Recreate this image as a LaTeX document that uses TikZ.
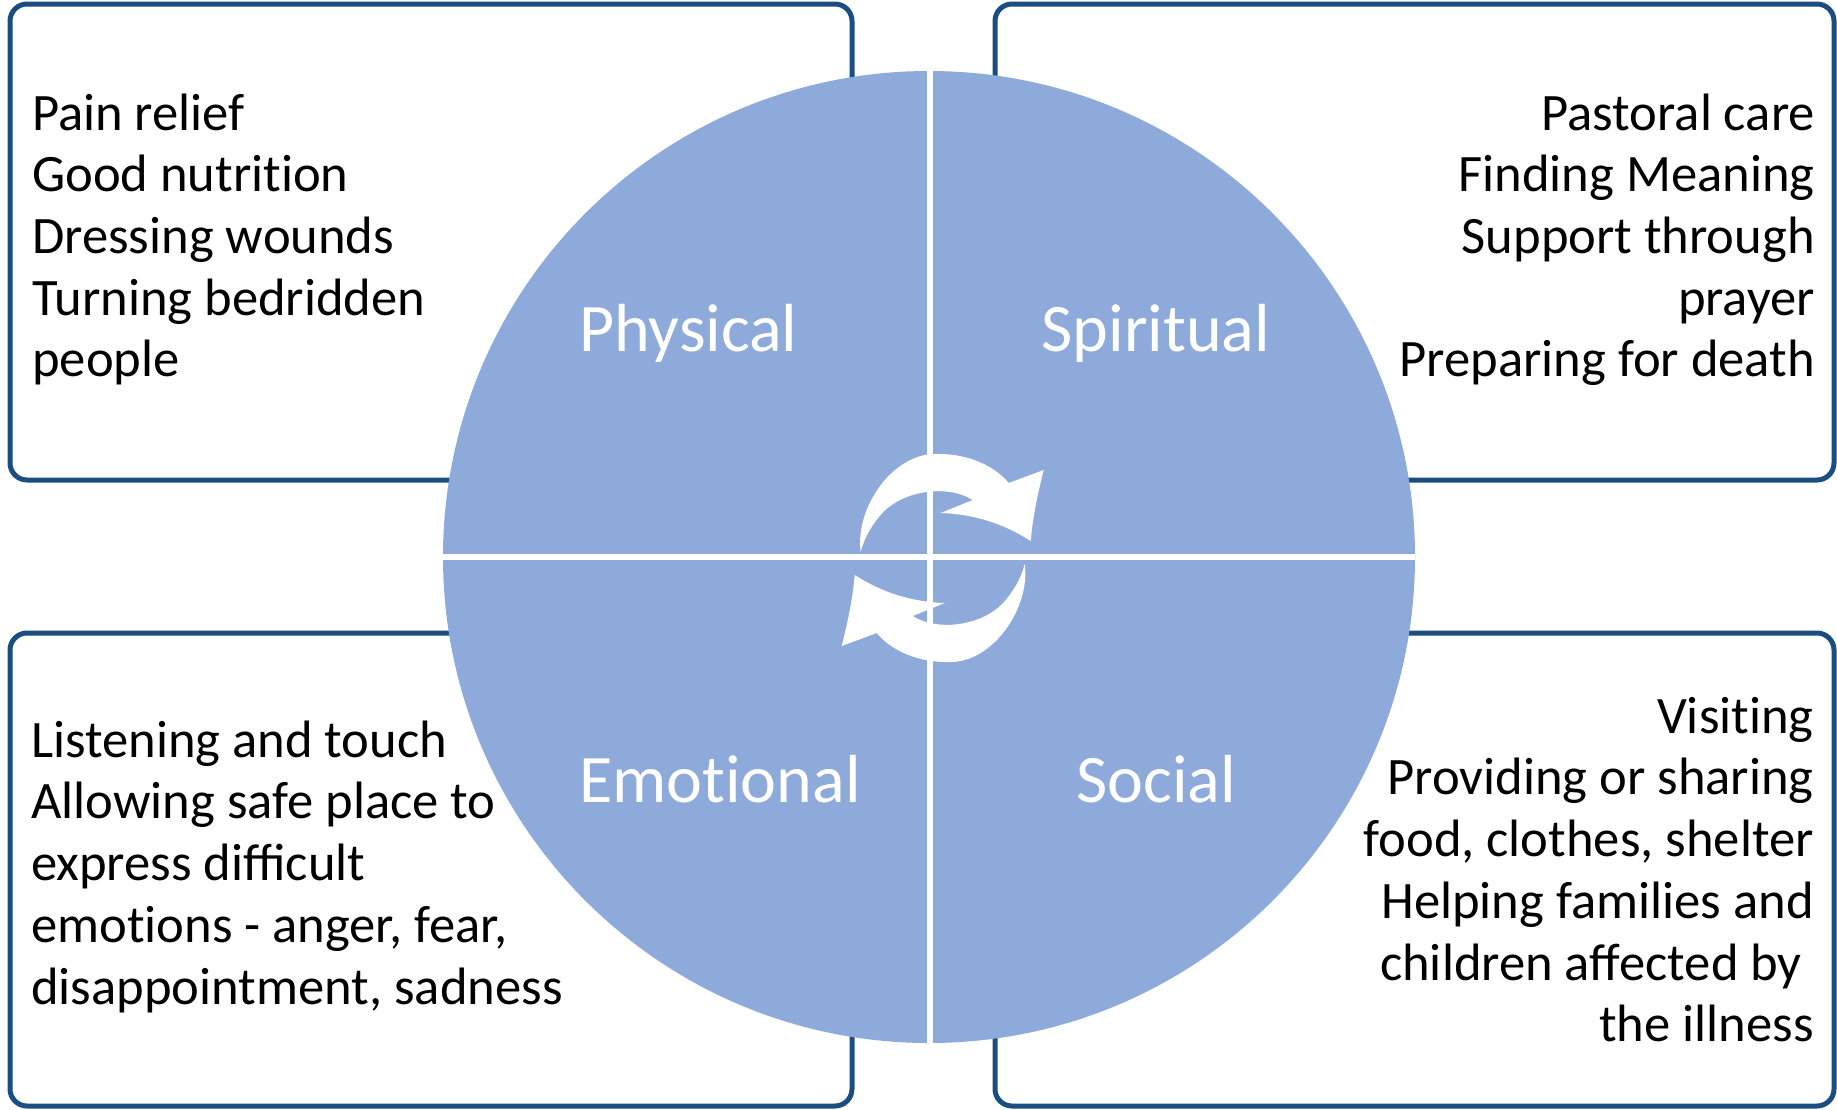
\documentclass[tikz,border=0pt]{standalone}
\usepackage{fontspec}
\setmainfont{Carlito}
\definecolor{boxline}{HTML}{1A4E80}
\definecolor{wheel}{HTML}{8EAADB}
\newcommand{\tibreak}{\kern0pt }
\begin{document}
\begin{tikzpicture}[x=1pt,y=-1pt,
  panel/.style={draw=boxline,line width=5pt,fill=white,rounded corners=17pt},
  itemtext/.style={inner sep=0pt,font=\fontsize{52.6}{61.7}\selectfont,text=black},
  quad/.style={inner sep=0pt,font=\fontsize{68}{80}\selectfont,text=white},
  divider/.style={draw=white,line width=6pt},
  swirl/.style={fill=white}]
\useasboundingbox (0,0) rectangle (1837,1109);
% panels
\path[panel] (10,4) rectangle (852,480);
\path[panel] (995,4) rectangle (1834,480);
\path[panel] (10,633) rectangle (852,1106);
\path[panel] (995,633) rectangle (1834,1106);
% wheel
\fill[wheel] (929,557) circle[radius=486];
\draw[divider] (930,71) -- (930,1043);
\draw[divider] (443,557) -- (1415,557);
% circular arrows
\begin{scope}[shift={(942.7,558)}]
\fill[swirl] (-82,-6) .. controls (-88,-50) and (-50,-104) .. (-8,-104)
  .. controls (25,-105) and (52,-92) .. (66,-75) -- (101,-88)
  .. controls (94,-60) and (90,-40) .. (88,-17)
  .. controls (60,-35) and (30,-44) .. (-2,-45) -- (30,-58)
  .. controls (5,-74) and (-42,-68) .. (-63,-42)
  .. controls (-73,-30) and (-79,-18) .. (-82,-6) -- cycle;
\end{scope}
\begin{scope}[shift={(942.7,558)},rotate=180]
\fill[swirl] (-82,-6) .. controls (-88,-50) and (-50,-104) .. (-8,-104)
  .. controls (25,-105) and (52,-92) .. (66,-75) -- (101,-88)
  .. controls (94,-60) and (90,-40) .. (88,-17)
  .. controls (60,-35) and (30,-44) .. (-2,-45) -- (30,-58)
  .. controls (5,-74) and (-42,-68) .. (-63,-42)
  .. controls (-73,-30) and (-79,-18) .. (-82,-6) -- cycle;
\end{scope}
% quadrant labels
\node[quad,anchor=base west] (physical) at (579,351) {Physical};
\node[quad,anchor=base] (spiritual) at (1156,351) {Spiritual};
\node[quad,anchor=base west] (emotional) at (579,802) {Emot\tibreak ional};
\node[quad,anchor=base] (social) at (1156,802) {Social};
% panel texts
\node[itemtext,anchor=north west,align=left] (phystext) at (32,86.8)
  {\strut Pain relief\\Good nutrit\tibreak ion\\Dressing wounds\\Turning bedridden\\people};
\node[itemtext,anchor=north east,align=right] (spirtext) at (1815,86.8)
  {\strut Pastoral care\\Finding Meaning\\Support through\\prayer\\Preparing for death};
\node[itemtext,anchor=north west,align=left] (emotext) at (31,713.8)
  {\strut Listening and touch\\Allowing safe place to\\express difficult\\emot\tibreak ions - anger, fear,\\disappointment, sadness};
\node[itemtext,anchor=north east,align=right] (soctext) at (1814,689.8)
  {\strut Visit\tibreak ing\\Providing or sharing\\food, clothes, shelter\\Helping families and\\children affected by\kern0.23em\\the illness};
\end{tikzpicture}
\end{document}
